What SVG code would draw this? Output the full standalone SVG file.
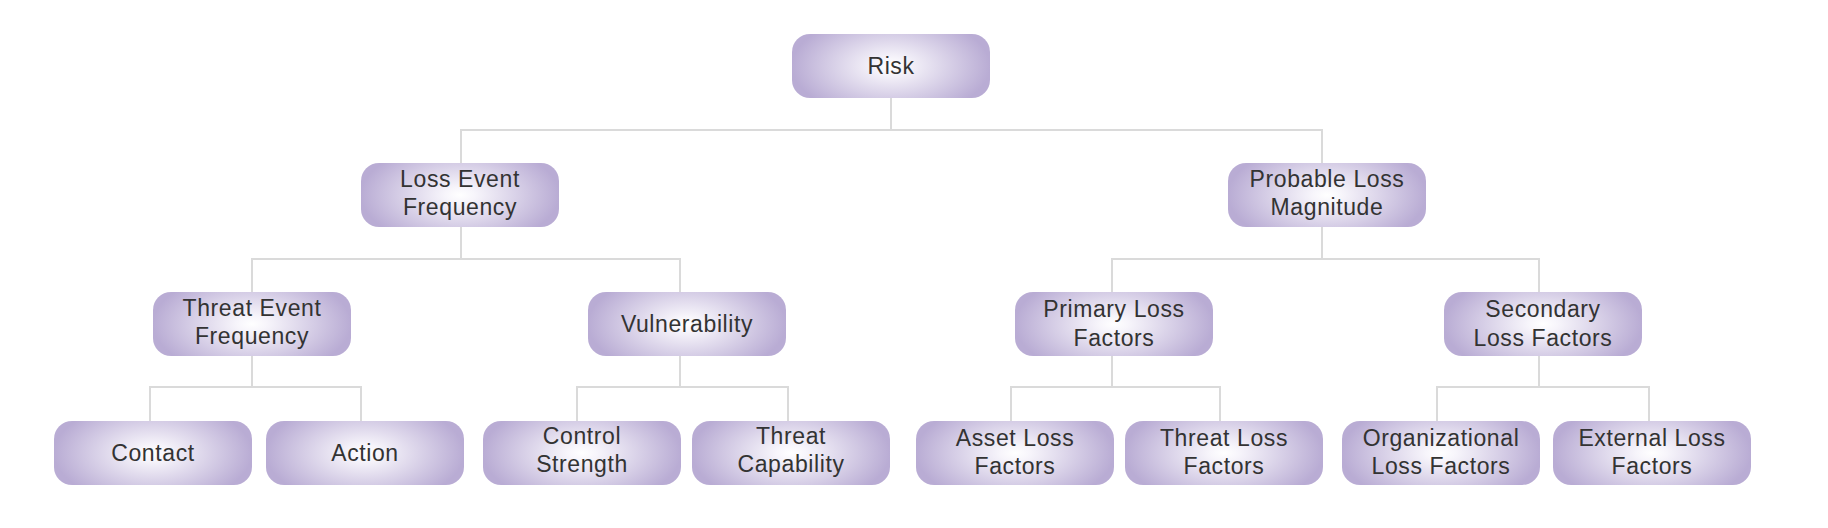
<svg xmlns="http://www.w3.org/2000/svg" width="1828" height="528" viewBox="0 0 1828 528">
<defs>
<radialGradient id="g" cx="0.5" cy="0.5" r="0.5" gradientTransform="translate(0.5 0.5) scale(1 1.6) translate(-0.5 -0.5)">
<stop offset="0" stop-color="#ffffff"/>
<stop offset="0.15" stop-color="#f7f5fb"/>
<stop offset="1" stop-color="#b9acd4"/>
</radialGradient>
<style>
.box{fill:url(#g);}
.t{font-family:"Liberation Sans",Arial,sans-serif;font-size:23px;fill:#333333;text-anchor:middle;letter-spacing:0.6px;}
.c{fill:none;stroke:#dadada;stroke-width:2;}
</style>
</defs>
<rect width="1828" height="528" fill="#ffffff"/>
<g id="connectors">
<path class="c" d="M891 98V130M461 163V130H1322V163"/>
<path class="c" d="M461 227V259M252 292V259H680V292"/>
<path class="c" d="M1322 227V259M1112 292V259H1539V292"/>
<path class="c" d="M252 356V387M150 421V387H361V421"/>
<path class="c" d="M680 356V387M577 421V387H788V421"/>
<path class="c" d="M1112 356V387M1011 421V387H1220V421"/>
<path class="c" d="M1539 356V387M1437 421V387H1649V421"/>
</g>
<g id="risk"><rect class="box" x="792" y="34" width="198" height="64" rx="18"/><text class="t" x="891" y="74">Risk</text></g>
<g id="lef"><rect class="box" x="361" y="163" width="198" height="64" rx="18"/><text class="t" x="460" y="187">Loss Event</text><text class="t" x="460" y="215">Frequency</text></g>
<g id="plm"><rect class="box" x="1228" y="163" width="198" height="64" rx="18"/><text class="t" x="1327" y="187">Probable Loss</text><text class="t" x="1327" y="215">Magnitude</text></g>
<g id="tef"><rect class="box" x="153" y="292" width="198" height="64" rx="18"/><text class="t" x="252" y="316">Threat Event</text><text class="t" x="252" y="344">Frequency</text></g>
<g id="vuln"><rect class="box" x="588" y="292" width="198" height="64" rx="18"/><text class="t" x="687" y="332">Vulnerability</text></g>
<g id="plf"><rect class="box" x="1015" y="292" width="198" height="64" rx="18"/><text class="t" x="1114" y="317">Primary Loss</text><text class="t" x="1114" y="346">Factors</text></g>
<g id="slf"><rect class="box" x="1444" y="292" width="198" height="64" rx="18"/><text class="t" x="1543" y="317">Secondary</text><text class="t" x="1543" y="346">Loss Factors</text></g>
<g id="contact"><rect class="box" x="54" y="421" width="198" height="64" rx="18"/><text class="t" x="153" y="461">Contact</text></g>
<g id="action"><rect class="box" x="266" y="421" width="198" height="64" rx="18"/><text class="t" x="365" y="461">Action</text></g>
<g id="cs"><rect class="box" x="483" y="421" width="198" height="64" rx="18"/><text class="t" x="582" y="444">Control</text><text class="t" x="582" y="472">Strength</text></g>
<g id="tc"><rect class="box" x="692" y="421" width="198" height="64" rx="18"/><text class="t" x="791" y="444">Threat</text><text class="t" x="791" y="472">Capability</text></g>
<g id="alf"><rect class="box" x="916" y="421" width="198" height="64" rx="18"/><text class="t" x="1015" y="446">Asset Loss</text><text class="t" x="1015" y="474">Factors</text></g>
<g id="tlf"><rect class="box" x="1125" y="421" width="198" height="64" rx="18"/><text class="t" x="1224" y="446">Threat Loss</text><text class="t" x="1224" y="474">Factors</text></g>
<g id="olf"><rect class="box" x="1342" y="421" width="198" height="64" rx="18"/><text class="t" x="1441" y="446">Organizational</text><text class="t" x="1441" y="474">Loss Factors</text></g>
<g id="elf"><rect class="box" x="1553" y="421" width="198" height="64" rx="18"/><text class="t" x="1652" y="446">External Loss</text><text class="t" x="1652" y="474">Factors</text></g>
</svg>
